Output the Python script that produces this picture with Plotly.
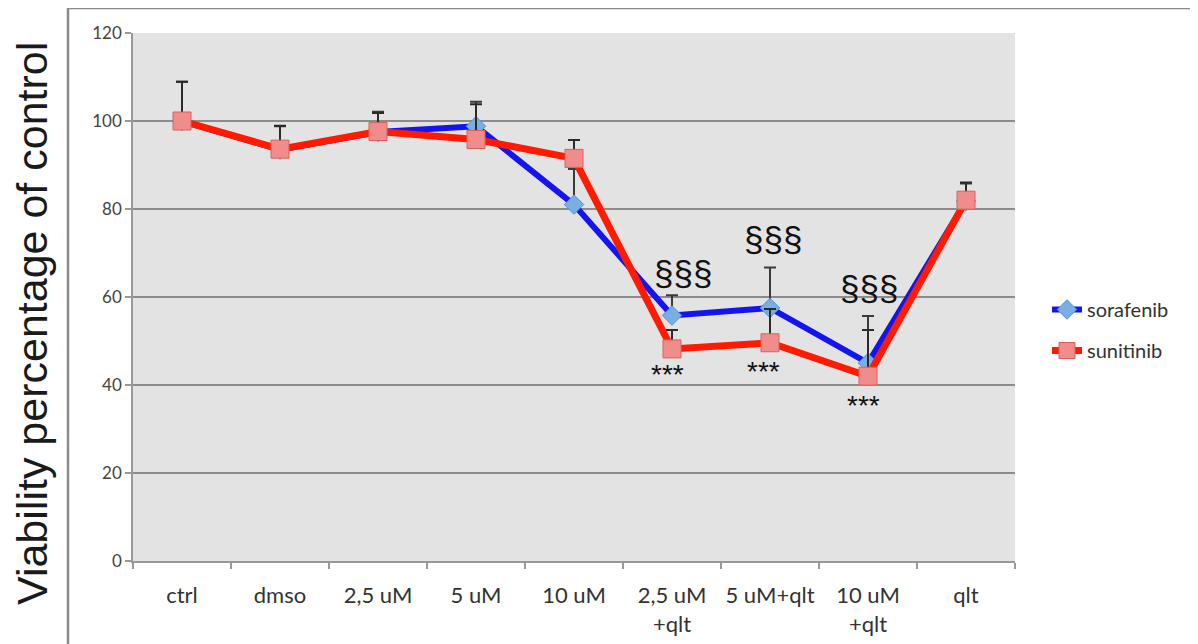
import plotly.graph_objects as go

categories = ["ctrl", "dmso", "2,5 uM", "5 uM", "10 uM", "2,5 uM<br>+qlt", "5 uM+qlt", "10 uM<br>+qlt", "qlt"]
sorafenib = [100, 93.5, 97.5, 98.8, 81.0, 55.8, 57.5, 45.0, 81.8]
sorafenib_err = [8.9, 5.3, 4.6, 5.6, 8.1, 4.6, 9.2, 10.7, 4.0]
sunitinib = [100, 93.6, 97.6, 95.8, 91.5, 48.2, 49.6, 42.0, 82.0]
sunitinib_err = [8.9, 5.3, 4.2, 8.0, 4.2, 4.3, 7.7, 10.5, 4.0]
sig_sorafenib_idx = [5, 6, 7]   # "§§§" labels
sig_sunitinib_idx = [5, 6, 7]   # "***" labels

# page has an 8px body margin: work in page pixels, convert to figure pixels
OFF = 8
W, H = 1198 - OFF, 644 - OFF
L, R = 133 - OFF, 1198 - 1015
T, B = 33 - OFF, 644 - 561
pw, ph = W - L - R, H - T - B


def px(xpage):
    return (xpage - OFF - L) / pw


def py(ypage):
    return (H - B - (ypage - OFF)) / ph


fig = go.Figure()
fig.add_trace(go.Scatter(
    x=categories, y=sorafenib, name="sorafenib", mode="lines+markers",
    line=dict(color="#1414f0", width=6),
    marker=dict(symbol="diamond", size=15, color="#78aee2", line=dict(color="#5a8fc8", width=1)),
    error_y=dict(type="data", array=sorafenib_err, arrayminus=[0] * len(sorafenib_err),
                 symmetric=False, color="#3a3a3a", thickness=2, width=6),
    legendgroup="a",
))
fig.add_trace(go.Scatter(
    x=categories, y=sunitinib, name="sunitinib", mode="lines+markers",
    line=dict(color="#ff1a00", width=7),
    marker=dict(symbol="square", size=18, color="#f08c8c", line=dict(color="#d9605a", width=1)),
    error_y=dict(type="data", array=sunitinib_err, arrayminus=[0] * len(sunitinib_err),
                 symmetric=False, color="#2a2a2a", thickness=2, width=6),
    legendgroup="b",
))

annotations = []
for i, xs, ys in zip(sig_sorafenib_idx, [11, 3, 1], [0, 7, 6]):
    annotations.append(dict(
        x=categories[i], y=sorafenib[i] + sorafenib_err[i], xref="x", yref="y",
        text="§§§", showarrow=False, yanchor="bottom", xshift=xs, yshift=ys,
        font=dict(family="Liberation Sans", size=35, color="#111111")))
for i, xs, ys in zip(sig_sunitinib_idx, [-5, -7, -5], [-8, -11, -12]):
    annotations.append(dict(
        x=categories[i], y=sunitinib[i], xref="x", yref="y",
        text="***", showarrow=False, yanchor="top", xshift=xs, yshift=ys,
        font=dict(family="Liberation Sans", size=28, color="#111111")))
annotations.append(dict(
    x=px(32), y=py(324), xref="paper", yref="paper",
    text="Viability percentage of control", textangle=-90, showarrow=False,
    xanchor="center", yanchor="middle",
    font=dict(family="Liberation Sans", size=43, color="#1a1a1a")))

fig.update_layout(
    width=W, height=H,
    margin=dict(l=L, r=R, t=T, b=B, autoexpand=False),
    paper_bgcolor="white", plot_bgcolor="#e3e3e3",
    font=dict(family="Lato", color="#333333"),
    showlegend=True,
    legend=dict(x=px(1047), y=py(330), xanchor="left", yanchor="middle",
                font=dict(family="Lato", size=20, color="#333333"),
                bgcolor="rgba(0,0,0,0)", tracegroupgap=12),
    annotations=annotations,
    shapes=[dict(type="rect", xref="paper", yref="paper",
                 x0=px(68), x1=px(1193), y0=py(660), y1=py(8),
                 line=dict(color="#8a8a8a", width=2.5), layer="below")],
)
fig.update_xaxes(
    type="category", tickson="boundaries", ticks="outside", ticklen=6, tickwidth=1.5,
    tickcolor="#999999", showline=True, linecolor="#999999", linewidth=1.5,
    showgrid=False, tickfont=dict(family="Lato", size=22, color="#333333"),
    tickangle=0, automargin=False,
    ticklabelstandoff=14, range=[-0.5, 8.5],
)
fig.update_yaxes(
    range=[0, 120], dtick=20, ticks="outside", ticklen=6, tickwidth=1.5,
    tickcolor="#999999", showline=True, linecolor="#999999", linewidth=1.5,
    showgrid=True, gridcolor="#8c8c8c", gridwidth=1.5, zeroline=False,
    automargin=False,
    tickfont=dict(family="Lato", size=17, color="#444444"),
)

fig.write_html("out.html")
